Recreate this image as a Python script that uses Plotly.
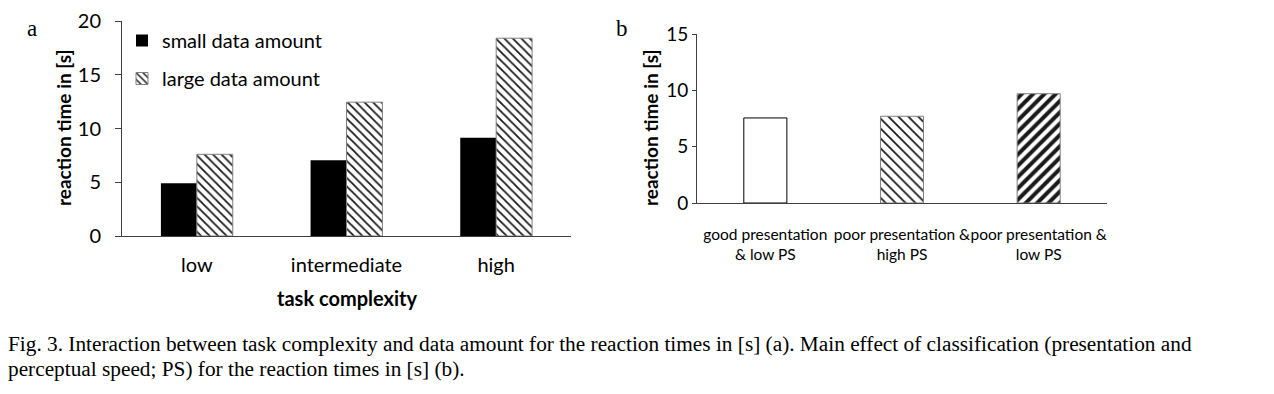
import plotly.graph_objects as go

# ---- data ----
complexity = ["low", "intermediate", "high"]
small_amount = [4.9, 7.05, 9.15]
large_amount = [7.6, 12.45, 18.4]

classes = ["good presentation<br>& low PS", "poor presentation &<br>high PS", "poor presentation &<br>low PS"]
class_rt = [7.55, 7.7, 9.7]

# styles for panel b bars (not data)
b_shapes = ["", "\\", "/"]
b_sizes = [7, 7, 8]
b_solid = [0.3, 0.25, 0.5]
b_lines = ["black", "#808080", "#808080"]

W, H = 1274, 394
OFF = 8  # page body margin
FONT = "Lato"

def px(x):
    return (x - OFF) / W

def py(y):
    return 1 - (y - OFF) / H

fig = go.Figure()

# panel a
fig.add_trace(go.Bar(
    x=complexity, y=small_amount, name="small data amount",
    marker=dict(color="black", line=dict(color="black", width=0)),
    xaxis="x", yaxis="y", legendgroup="g1"))
fig.add_trace(go.Bar(
    x=complexity, y=large_amount, name="large data amount",
    marker=dict(color="white", line=dict(color="#808080", width=1),
                pattern=dict(shape="\\", fgcolor="#1a1a1a", bgcolor="white", size=6, solidity=0.3)),
    xaxis="x", yaxis="y", legendgroup="g2"))

# panel b
for i in range(len(classes)):
    fig.add_trace(go.Bar(
        x=[classes[i]], y=[class_rt[i]], showlegend=False, offsetgroup="b", width=0.315,
        marker=dict(color="white", line=dict(color=b_lines[i], width=1),
                    pattern=dict(shape=b_shapes[i], fgcolor="#1a1a1a", bgcolor="white",
                                 size=b_sizes[i], solidity=b_solid[i])),
        xaxis="x2", yaxis="y2"))

axis_col = "#404040"
tickfont_a = dict(family=FONT, size=20, color="black")
tickfont_b = dict(family=FONT, size=15.5, color="black")
ytickfont_b = dict(family=FONT, size=19, color="black")

fig.update_layout(
    template="none",
    width=W, height=H,
    margin=dict(l=0, r=0, t=0, b=0, pad=0, autoexpand=False),
    paper_bgcolor="white", plot_bgcolor="white",
    barmode="group", bargap=0.52, bargroupgap=0,
    showlegend=True,
    legend=dict(x=px(122), y=py(21), xanchor="left", yanchor="top",
                font=dict(family=FONT, size=20, color="black"),
                bgcolor="rgba(0,0,0,0)", tracegroupgap=9, traceorder="grouped",
                itemwidth=30),
    xaxis=dict(domain=[px(122), px(571)], anchor="y", showline=True, linecolor=axis_col,
               linewidth=1, ticks="", tickfont=tickfont_a, tickangle=0, ticklabelstandoff=11,
               showgrid=False, zeroline=False, automargin=False),
    yaxis=dict(domain=[py(236), py(21)], anchor="x", range=[0, 20], dtick=5,
               showline=True, linecolor=axis_col, linewidth=1, ticks="outside",
               ticklen=6, tickcolor=axis_col, tickfont=tickfont_a, ticklabelstandoff=10,
               showgrid=False, zeroline=False, automargin=False),
    xaxis2=dict(domain=[px(697), px(1107)], anchor="y2", showline=True, linecolor=axis_col,
                linewidth=1, ticks="", tickfont=tickfont_b, tickangle=0, ticklabelstandoff=17,
                showgrid=False, zeroline=False, automargin=False),
    yaxis2=dict(domain=[py(203), py(34)], anchor="x2", range=[0, 15], dtick=5,
                showline=True, linecolor=axis_col, linewidth=1, ticks="outside",
                ticklen=4, tickcolor=axis_col, tickfont=ytickfont_b, ticklabelstandoff=0,
                showgrid=False, zeroline=False, automargin=False),
)

ann = []
ann.append(dict(text="<b>reaction time in [s]</b>", x=px(63), y=py(128), textangle=-90,
                font=dict(family=FONT, size=19, color="black")))
ann.append(dict(text="<b>reaction time in [s]</b>", x=px(650), y=py(128), textangle=-90,
                font=dict(family=FONT, size=19, color="black")))
ann.append(dict(text="<b>task complexity</b>", x=px(347), y=py(298),
                font=dict(family=FONT, size=20, color="black")))
ann.append(dict(text="a", x=px(32), y=py(29), font=dict(family="Liberation Serif", size=23, color="black")))
ann.append(dict(text="b", x=px(622), y=py(29), font=dict(family="Liberation Serif", size=23, color="black")))
ann.append(dict(text="Fig. 3. Interaction between task complexity and data amount for the reaction times in [s] (a). Main effect of classification (presentation and",
                x=px(6), y=py(344), xanchor="left",
                font=dict(family="Liberation Serif", size=21.3, color="black")))
ann.append(dict(text="perceptual speed; PS) for the reaction times in [s] (b).",
                x=px(6), y=py(369), xanchor="left",
                font=dict(family="Liberation Serif", size=21.3, color="black")))
for a in ann:
    a.update(xref="paper", yref="paper", showarrow=False, yanchor="middle")
    a.setdefault("xanchor", "center")
fig.update_layout(annotations=ann)

fig.write_html("out.html")
